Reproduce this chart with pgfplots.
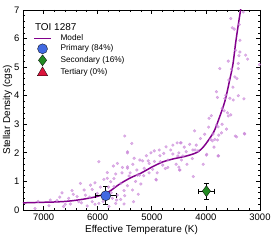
\documentclass[border=0pt]{standalone}
\usepackage{fontspec}
\setmainfont{Liberation Sans}
\usepackage{pgfplots}
\pgfplotsset{compat=1.18}
\definecolor{modelc}{RGB}{130,0,140}
\definecolor{scat}{RGB}{200,130,215}
\definecolor{primc}{RGB}{65,105,225}
\definecolor{secc}{RGB}{34,139,34}
\definecolor{terc}{RGB}{220,20,60}
\begin{document}
\begin{tikzpicture}
\begin{axis}[
  scale only axis, width=237bp, height=200bp,
  x dir=reverse, xmin=3000, xmax=7380, ymin=0, ymax=7,
  xtick={3000,4000,5000,6000,7000}, ytick={0,1,2,3,4,5,6,7},
  minor x tick num=4, minor y tick num=4,
  tick align=inside, xtick pos=both, ytick pos=both,
  major tick length=4bp, minor tick length=2bp,
  axis line style={line width=0.8pt}, every tick/.style={line width=0.7pt, black},
  /pgf/number format/assume math mode=true,
  /pgf/number format/set thousands separator={},
  tick label style={font=\fontsize{9.5}{11}\selectfont},
  label style={font=\fontsize{10.5}{12}\selectfont},
  xlabel={Effective Temperature (K)},
  ylabel={Stellar Density (cgs)},
  every axis x label/.style={at={(axis description cs:0.5,-0.1)}, anchor=center},
  every axis y label/.style={at={(axis description cs:-0.065,0.5)}, rotate=90, anchor=center},
  legend style={at={(rel axis cs:0.03,0.89)}, anchor=north west, draw=none, fill=none,
    font=\fontsize{8.3}{9}\selectfont, row sep=1.0bp,
    nodes={inner sep=0.8bp, text height=5.5bp, text depth=1.5bp},
    /tikz/every odd column/.append style={column sep=8bp}},
  legend cell align=left,
]
\addplot[only marks, mark=*, color=scat, mark size=1.4bp, mark options={solid, draw=scat, fill=scat}, opacity=0.6, forget plot] coordinates {
(3310,6.93)(3540,6.70)(3513,6.38)(3476,6.33)(3383,6.49)(3371,5.94)(3451,5.59)(3371,5.53)
(3390,5.40)(3265,5.42)(3228,5.28)(3587,5.21)(3401,5.13)(3010,5.09)(3743,4.95)(3526,4.93)
(3401,4.95)(3576,4.55)(3464,4.66)(3427,4.60)
(3805,4.14)(3786,3.94)(3632,4.02)(3557,3.91)(3494,3.85)(3297,3.89)(3699,3.56)(3662,3.47)
(3587,3.29)(3540,3.33)(3941,3.21)(3805,2.97)(3774,2.91)(3619,2.83)(4209,2.77)(3712,2.70)
(4023,2.65)(3867,2.66)(3289,2.68)(3762,2.62)(3433,2.56)(3911,2.47)(3836,2.47)(3786,2.45)
(3880,2.42)(4457,2.35)(4178,2.27)(4240,2.10)(4364,2.04)(4147,2.07)(3991,1.92)(3774,1.89)
(4426,1.89)
(5499,2.59)(5369,2.33)(4611,2.27)(4531,2.35)(4470,2.35)(4736,2.21)(5015,2.00)(4954,2.07)
(4861,2.10)(5449,2.00)(4779,1.98)(4611,1.96)(4518,1.89)(5326,1.81)(5220,1.75)(5170,1.72)
(5066,1.72)(5635,1.63)(5047,1.63)(4842,1.69)(4797,1.57)(5710,1.54)(5542,1.49)(5449,1.46)
(5276,1.40)(5140,1.46)(4984,1.42)(4704,1.49)(4488,1.40)(5822,1.31)(5667,1.26)(5419,1.19)
(5263,1.22)(4922,1.07)(5885,1.07)(5760,0.99)(5574,0.93)(5202,0.91)(5698,0.82)(5512,0.68)
(5356,0.70)(5635,0.52)(5729,0.41)(5574,0.37)(5337,0.29)(5667,0.23)(5512,0.21)
(5978,1.69)(6319,0.93)(6659,0.60)(6473,0.68)(6132,0.87)(6101,0.72)(5822,1.11)(6008,0.58)
(6226,0.52)(6380,0.47)(6536,0.41)(6753,0.33)(6877,0.35)(6350,0.29)(6101,0.29)(6505,0.21)
(5978,0.23)(6194,0.14)(6630,0.12)(7157,0.05)(5792,0.12)(5885,0.41)
(3985,1.95)(3768,1.90)(4233,1.17)(4481,1.40)(4500,1.50)(5226,1.22)(4917,1.05)(3457,2.59)(3284,2.66)
(5449,2.04)(5449,1.51)
(6900,0.15)(7100,0.30)(6700,0.45)(6600,0.20)(6450,0.55)(6300,0.25)(6250,0.70)(6150,0.45)
(6050,0.95)(6050,0.20)(5950,0.80)(5900,0.30)(5800,0.80)(5750,0.60)(5700,1.10)(5650,0.35)
(5550,1.30)(5500,0.50)(5450,0.85)(5400,1.30)(5350,1.60)(5300,1.00)(5250,0.55)(5150,1.20)
(5100,1.90)(5050,1.30)(4950,1.70)(4900,1.30)(4850,1.90)(4750,1.45)(4700,1.75)(4650,2.10)
(4550,1.60)(4500,2.00)(4450,1.75)(4400,2.20)(4350,1.60)(4300,2.30)(4250,1.80)(4200,2.10)
(4100,2.50)(4050,1.60)(3950,2.90)(3900,3.30)(3850,2.20)(3700,3.00)(3650,3.90)(3600,3.40)
(3500,4.30)(3400,4.00)
};
\addplot[modelc, line width=1.5pt, smooth, mark=none] coordinates {
(7380,0.25)(7000,0.27)(6800,0.28)(6600,0.30)(6400,0.34)(6200,0.40)(6000,0.48)(5800,0.63)
(5600,0.90)(5400,1.12)(5200,1.29)(5000,1.50)(4800,1.68)(4600,1.79)(4400,1.87)(4270,1.94)
(4150,2.03)(4050,2.20)(3950,2.45)(3850,2.75)(3767,3.15)(3650,3.80)(3560,4.55)(3500,5.10)
(3450,5.85)(3400,6.50)(3350,7.10)
};
\addlegendentry{Model}
\addplot[draw=none, mark=none, forget plot,
  error bars/.cd, x dir=both, x explicit, y dir=both, y explicit,
  error bar style={line width=1.1pt, black},
  error mark options={rotate=90, mark size=2.5bp, line width=1.1pt, black}]
  coordinates {(5850,0.50) +- (190,0.32)};
\addplot[only marks, mark=*, mark size=5bp, mark options={solid, fill=primc, draw=black, line width=0.3pt}]
  coordinates {(5850,0.50)};
\addlegendentry{Primary (84\%)}
\addplot[draw=none, mark=none, forget plot,
  error bars/.cd, x dir=both, x explicit, y dir=both, y explicit,
  error bar style={line width=1.1pt, black},
  error mark options={rotate=90, mark size=2.5bp, line width=1.1pt, black}]
  coordinates {(3990,0.66) +- (150,0.28)};
\addplot[only marks, mark=diamond*, mark size=5.5bp, mark options={solid, fill=secc, draw=black, line width=0.3pt}]
  coordinates {(3990,0.66)};
\addlegendentry{Secondary (16\%)}
\addlegendimage{only marks, mark=triangle*, mark size=6bp, mark options={solid, fill=terc, draw=black, line width=0.3pt}}
\addlegendentry{Tertiary (0\%)}
\node[anchor=west, font=\fontsize{10}{11}\selectfont, inner sep=0pt] at (rel axis cs:0.05,0.915) {TOI 1287};
\end{axis}
\pgfresetboundingbox
\path[use as bounding box] ([shift={(-23bp,-30bp)}]current axis.south west) rectangle ([shift={(14bp,10bp)}]current axis.north east);
\end{tikzpicture}
\end{document}
